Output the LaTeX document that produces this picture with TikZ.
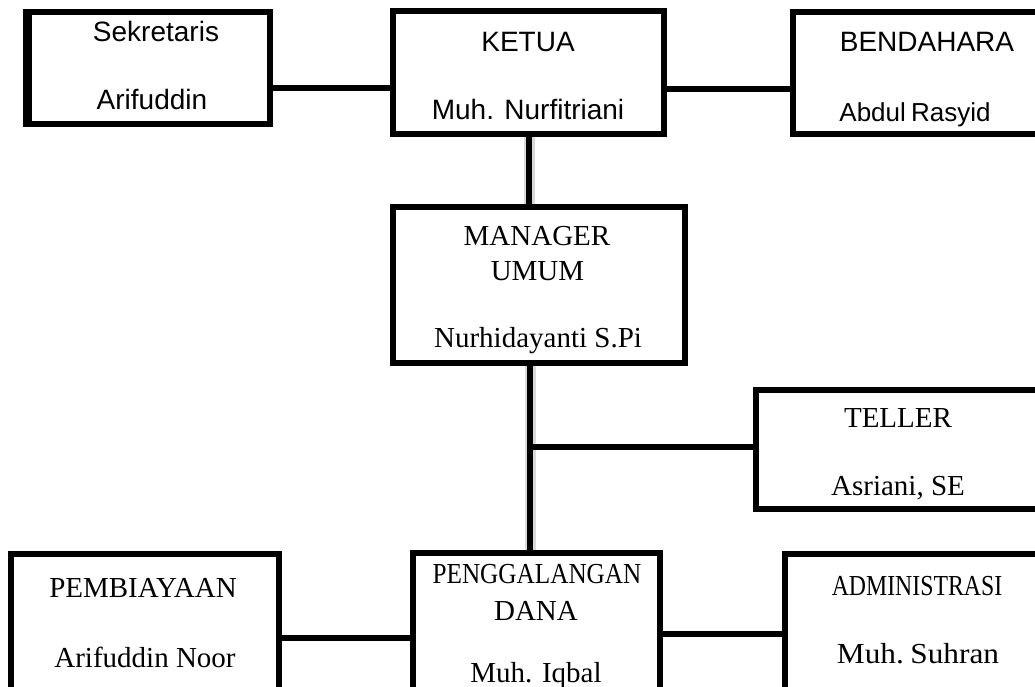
\documentclass[tikz,border=0pt]{standalone}
\usepackage{fontspec}
\setmainfont{Liberation Serif}
\newfontfamily\arialf{Liberation Sans}
\usetikzlibrary{calc}
\begin{document}
\begin{tikzpicture}[x=1pt,y=-1pt,
  box/.style={draw=black, line width=6.5pt, rectangle, inner sep=0pt, minimum width=#1},
  conn/.style={draw=black, line width=6.5pt},
  halo/.style={draw=black!15, line width=11pt},
  sans/.style={anchor=base, inner sep=0pt, font=\arialf\fontsize{28}{30}\selectfont},
  serif/.style={anchor=base, inner sep=0pt, font=\fontsize{29}{31}\selectfont}]
\useasboundingbox (0,0) rectangle (1035,687);
\clip (0,0) rectangle (1035,687);
% boxes
\node[box=241pt, minimum height=112pt] (sek) at (149.5,68) {};
\node[box=271pt, minimum height=123pt] (ketua) at (528.5,72.5) {};
\node[box=327pt, minimum height=122pt] (bend) at (956.5,73) {};
\node[box=292pt, minimum height=156pt] (mgr) at (539,285) {};
\node[box=364pt, minimum height=119pt] (teller) at (938,449.5) {};
\node[box=268pt, minimum height=206pt] (pemb) at (145,657) {};
\node[box=247pt, minimum height=207pt] (peng) at (536.5,656.5) {};
\node[box=335pt, minimum height=206pt] (admin) at (952.5,657) {};
% thicker left edge of the Sekretaris box
\draw[line width=3pt] ([xshift=-1.5pt]sek.north west) -- ([xshift=-1.5pt]sek.south west);
% connectors
\coordinate (jt) at (530,447);
\draw[halo] (ketua.south -| 529,0) -- (mgr.north -| 529,0);
\draw[halo] (mgr.south -| 530,0) -- (peng.north -| 530,0);
\draw[conn] (sek.east |- 0,88) -- (ketua.west |- 0,88);
\draw[conn] (ketua.east |- 0,89) -- (bend.west |- 0,89);
\draw[conn] (ketua.south -| 529,0) -- (mgr.north -| 529,0);
\draw[conn] (mgr.south -| 530,0) -- (peng.north -| 530,0);
\draw[conn] (jt) -- (teller.west |- jt);
\draw[conn] (pemb.east |- 0,638) -- (peng.west |- 0,638);
\draw[conn] (peng.east |- 0,634) -- (admin.west |- 0,634);
% texts
\node[sans] (sek1) at (156,42) {Sekretaris};
\node[sans] (sek2) at (152,110) {Arifuddin};
\node[sans] (ket1) at (528,52) {KETUA};
\node[sans] (ket2) at (528,120) {Muh. Nurfitriani};
\node[sans] (ben1) at (927,52) {BENDAHARA};
\node[sans, font=\arialf\fontsize{26}{28}\selectfont] (ben2) at (915,122) {Abdul\kern-2pt\ Rasyid};
\node[serif] (mgr1) at (537,245) {MANAGER};
\node[serif] (mgr2) at (537.5,280) {UMUM};
\node[serif] (mgr3) at (538,347) {Nurhidayanti S.Pi};
\node[serif] (tel1) at (898,427) {TELLER};
\node[serif] (tel2) at (898,495) {Asriani, SE};
\node[serif] (pem1) at (143,597) {PEMBIAYAAN};
\node[serif] (pem2) at (145,667) {Arifuddin Noor};
\node[serif] (pen1) at (537,583) {\scalebox{0.87}[1]{PENGGALANGAN}};
\node[serif] (pen2) at (536,620) {DANA};
\node[serif] (pen3) at (536,682) {Muh. Iqbal};
\node[serif] (adm1) at (917,595) {\scalebox{0.82}[1]{ADMINISTRASI}};
\node[serif] (adm2) at (918,663) {\scalebox{1.08}[1]{Muh.\kern6pt Suhran}};
\end{tikzpicture}
\end{document}
